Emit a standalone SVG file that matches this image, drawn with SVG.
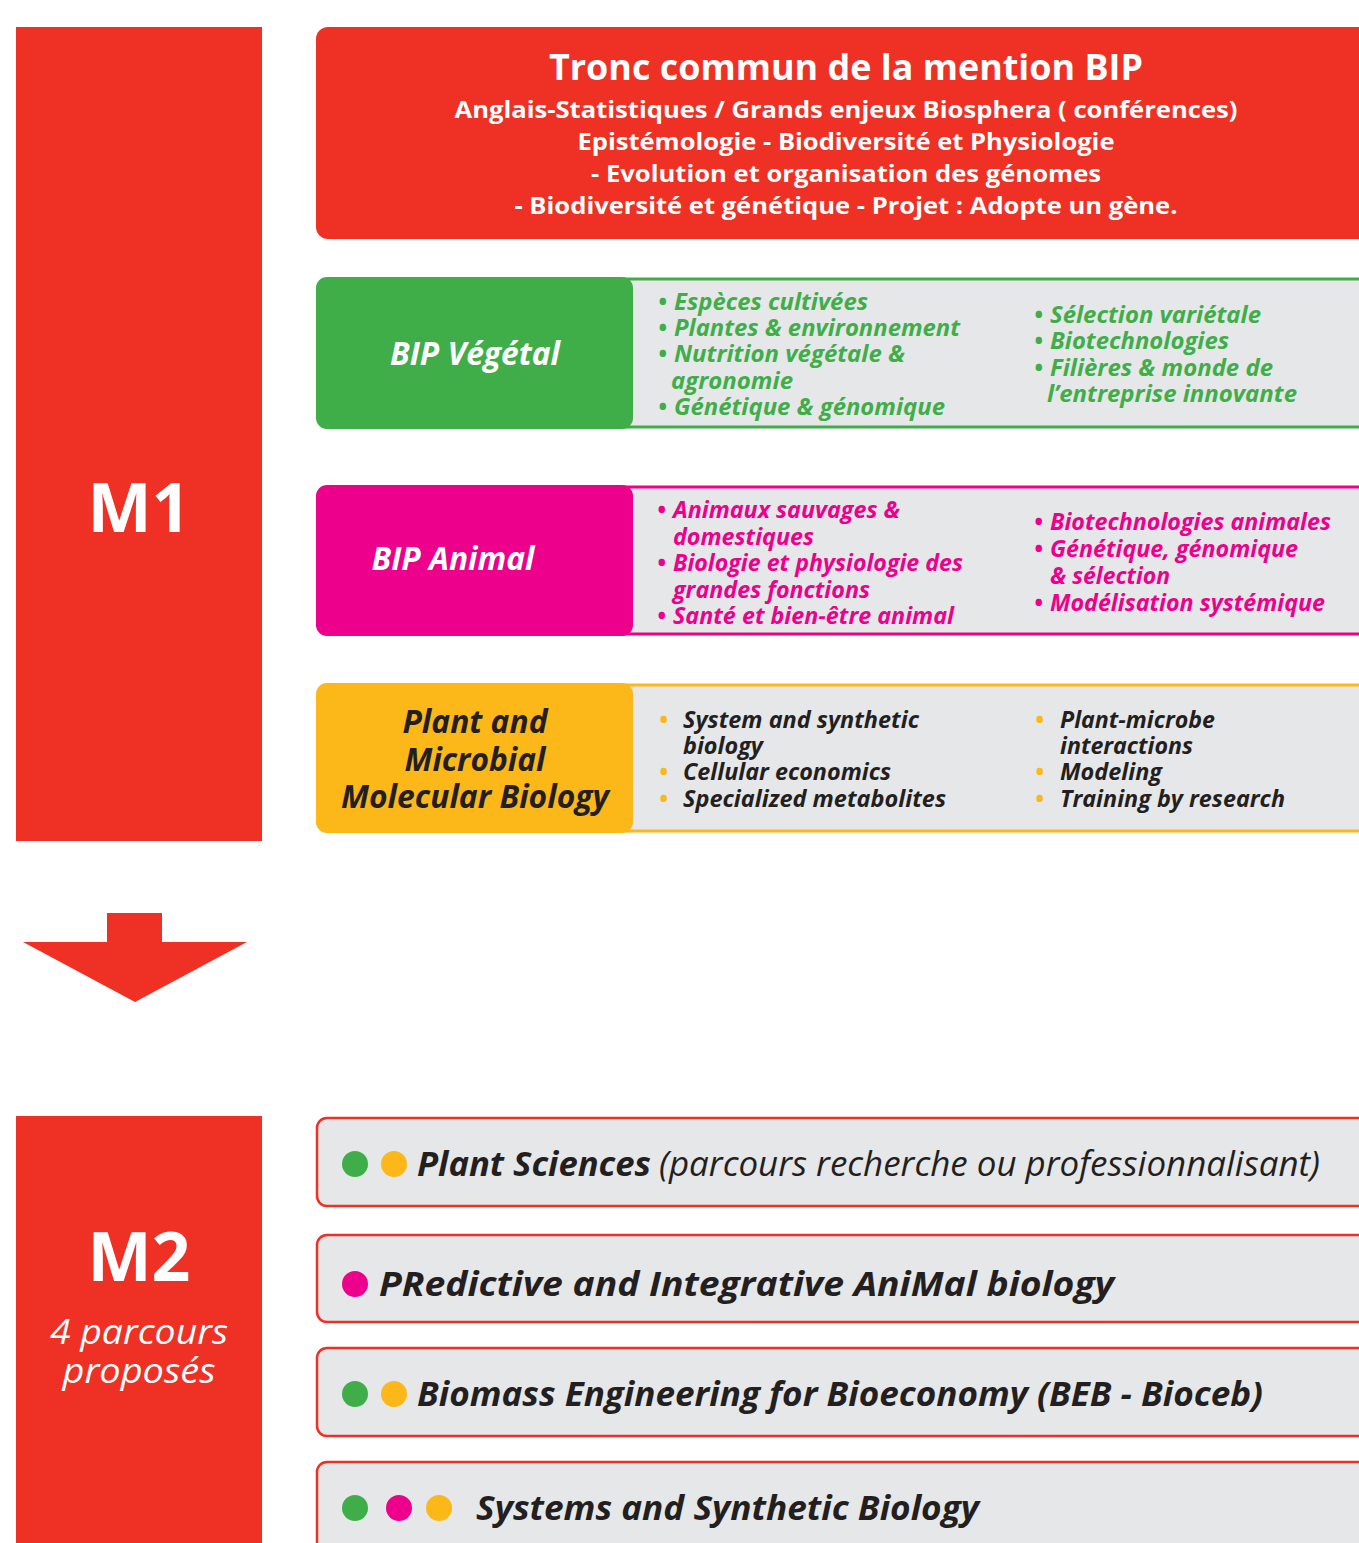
<svg xmlns="http://www.w3.org/2000/svg" width="1359" height="1543" viewBox="0 0 1359 1543">
<style>
.f{font-family:"Open Sans","Liberation Sans",sans-serif;font-weight:700}
.bi{font-family:"Open Sans","Liberation Sans",sans-serif;font-weight:700;font-style:italic}
.it{font-family:"Open Sans","Liberation Sans",sans-serif;font-weight:400;font-style:italic}
.w{fill:#ffffff}
.dk{fill:#231f20}
.gr{fill:#3fae49}
.pk{fill:#ec008c}
.ye{fill:#fbb818}
.li{font-size:23px}
.band{fill:#e6e7e8;stroke-width:3}
.m2box{fill:#e6e7e8;stroke:#ee3124;stroke-width:2.5}
.m2t{font-size:34px}
</style>
<rect width="1359" height="1543" fill="#ffffff"/>

<g id="m1">
<rect x="16" y="27" width="246" height="814" fill="#ee3124"/>
<text class="f w" x="139" y="532" font-size="68" text-anchor="middle">M1</text>
</g>

<g id="m2">
<rect x="16" y="1116" width="246" height="440" fill="#ee3124"/>
<text class="f w" x="139" y="1281" font-size="68" text-anchor="middle">M2</text>
<text class="it w" font-size="35" text-anchor="middle"><tspan x="139" y="1344" textLength="178" lengthAdjust="spacingAndGlyphs">4 parcours</tspan><tspan x="139" y="1383" textLength="153" lengthAdjust="spacingAndGlyphs">proposés</tspan></text>
</g>

<g id="tronc">
<rect x="316" y="27" width="1080" height="212" rx="12" fill="#ee3124"/>
<text class="f w" x="846" y="80" font-size="36" text-anchor="middle" textLength="594" lengthAdjust="spacingAndGlyphs">Tronc commun de la mention BIP</text>
<text class="f w" font-size="24" text-anchor="middle"><tspan x="846" y="118" textLength="783" lengthAdjust="spacingAndGlyphs">Anglais-Statistiques / Grands enjeux Biosphera ( conférences)</tspan><tspan x="846" y="150" textLength="537" lengthAdjust="spacingAndGlyphs">Epistémologie - Biodiversité et Physiologie</tspan><tspan x="846" y="182" textLength="510" lengthAdjust="spacingAndGlyphs">- Evolution et organisation des génomes</tspan><tspan x="846" y="214" textLength="663" lengthAdjust="spacingAndGlyphs">- Biodiversité et génétique - Projet : Adopte un gène.</tspan></text>
</g>

<g id="vegetal">
<rect class="band" x="420" y="279" width="976" height="148" stroke="#3fae49"/>
<rect x="316" y="277" width="317" height="152" rx="11" fill="#3fae49"/>
<text class="bi w" x="475" y="365" font-size="32" text-anchor="middle" textLength="170" lengthAdjust="spacingAndGlyphs">BIP Végétal</text>
<text class="bi gr li"><tspan x="658" y="310">•</tspan><tspan x="674" y="310" textLength="194" lengthAdjust="spacingAndGlyphs">Espèces cultivées</tspan><tspan x="658" y="336">•</tspan><tspan x="674" y="336" textLength="286" lengthAdjust="spacingAndGlyphs">Plantes &amp; environnement</tspan><tspan x="658" y="362">•</tspan><tspan x="674" y="362" textLength="231" lengthAdjust="spacingAndGlyphs">Nutrition végétale &amp;</tspan><tspan x="671" y="389" textLength="122" lengthAdjust="spacingAndGlyphs">agronomie</tspan><tspan x="658" y="415">•</tspan><tspan x="674" y="415" textLength="271" lengthAdjust="spacingAndGlyphs">Génétique &amp; génomique</tspan></text>
<text class="bi gr li"><tspan x="1034" y="323">•</tspan><tspan x="1050" y="323" textLength="211" lengthAdjust="spacingAndGlyphs">Sélection variétale</tspan><tspan x="1034" y="349">•</tspan><tspan x="1050" y="349" textLength="179" lengthAdjust="spacingAndGlyphs">Biotechnologies</tspan><tspan x="1034" y="376">•</tspan><tspan x="1050" y="376" textLength="223" lengthAdjust="spacingAndGlyphs">Filières &amp; monde de</tspan><tspan x="1047" y="402" textLength="250" lengthAdjust="spacingAndGlyphs">l’entreprise innovante</tspan></text>
</g>

<g id="animal">
<rect class="band" x="420" y="487" width="976" height="147" stroke="#ec008c"/>
<rect x="316" y="485" width="317" height="151" rx="11" fill="#ec008c"/>
<text class="bi w" x="453" y="570" font-size="32" text-anchor="middle" textLength="163" lengthAdjust="spacingAndGlyphs">BIP Animal</text>
<text class="bi pk li"><tspan x="657" y="518">•</tspan><tspan x="673" y="518" textLength="227" lengthAdjust="spacingAndGlyphs">Animaux sauvages &amp;</tspan><tspan x="673" y="545" textLength="141" lengthAdjust="spacingAndGlyphs">domestiques</tspan><tspan x="657" y="571">•</tspan><tspan x="673" y="571" textLength="290" lengthAdjust="spacingAndGlyphs">Biologie et physiologie des</tspan><tspan x="673" y="598" textLength="197" lengthAdjust="spacingAndGlyphs">grandes fonctions</tspan><tspan x="657" y="624">•</tspan><tspan x="673" y="624" textLength="281" lengthAdjust="spacingAndGlyphs">Santé et bien-être animal</tspan></text>
<text class="bi pk li"><tspan x="1034" y="530">•</tspan><tspan x="1050" y="530" textLength="281" lengthAdjust="spacingAndGlyphs">Biotechnologies animales</tspan><tspan x="1034" y="557">•</tspan><tspan x="1050" y="557" textLength="248" lengthAdjust="spacingAndGlyphs">Génétique, génomique</tspan><tspan x="1050" y="584" textLength="120" lengthAdjust="spacingAndGlyphs">&amp; sélection</tspan><tspan x="1034" y="611">•</tspan><tspan x="1050" y="611" textLength="275" lengthAdjust="spacingAndGlyphs">Modélisation systémique</tspan></text>
</g>

<g id="pmmb">
<rect class="band" x="420" y="685" width="976" height="146" stroke="#fbb818"/>
<rect x="316" y="683" width="317" height="150" rx="11" fill="#fbb818"/>
<text class="bi dk" font-size="32" text-anchor="middle"><tspan x="475" y="733" textLength="145" lengthAdjust="spacingAndGlyphs">Plant and</tspan><tspan x="475" y="771" textLength="141" lengthAdjust="spacingAndGlyphs">Microbial</tspan><tspan x="475" y="808" textLength="268" lengthAdjust="spacingAndGlyphs">Molecular Biology</tspan></text>
<text class="bi li dk"><tspan class="ye" x="659" y="728">•</tspan><tspan x="683" y="728" textLength="236" lengthAdjust="spacingAndGlyphs">System and synthetic</tspan><tspan x="683" y="754" textLength="80" lengthAdjust="spacingAndGlyphs">biology</tspan><tspan class="ye" x="659" y="780">•</tspan><tspan x="683" y="780" textLength="208" lengthAdjust="spacingAndGlyphs">Cellular economics</tspan><tspan class="ye" x="659" y="807">•</tspan><tspan x="683" y="807" textLength="263" lengthAdjust="spacingAndGlyphs">Specialized metabolites</tspan></text>
<text class="bi li dk"><tspan class="ye" x="1035" y="728">•</tspan><tspan x="1060" y="728" textLength="155" lengthAdjust="spacingAndGlyphs">Plant-microbe</tspan><tspan x="1060" y="754" textLength="133" lengthAdjust="spacingAndGlyphs">interactions</tspan><tspan class="ye" x="1035" y="780">•</tspan><tspan x="1060" y="780" textLength="102" lengthAdjust="spacingAndGlyphs">Modeling</tspan><tspan class="ye" x="1035" y="807">•</tspan><tspan x="1060" y="807" textLength="225" lengthAdjust="spacingAndGlyphs">Training by research</tspan></text>
</g>

<g id="connectors">
<path d="M107,913 H162 V942 H247 L135,1002 L23,942 H107 Z" fill="#ee3124"/>
</g>

<g id="plant-sciences">
<rect class="m2box" x="317" y="1118" width="1080" height="88" rx="10"/>
<circle cx="355" cy="1164" r="13" fill="#3fae49"/>
<circle cx="394" cy="1164" r="13" fill="#fbb818"/>
<text class="dk m2t" y="1176"><tspan class="bi" x="417" textLength="234" lengthAdjust="spacingAndGlyphs">Plant Sciences</tspan><tspan class="it" x="659" textLength="661" lengthAdjust="spacingAndGlyphs">(parcours recherche ou professionnalisant)</tspan></text>
</g>

<g id="primal">
<rect class="m2box" x="317" y="1235" width="1080" height="87" rx="10"/>
<circle cx="355" cy="1284" r="13" fill="#ec008c"/>
<text class="bi dk m2t" x="379" y="1296" textLength="735" lengthAdjust="spacingAndGlyphs">PRedictive and Integrative AniMal biology</text>
</g>

<g id="beb">
<rect class="m2box" x="317" y="1348" width="1080" height="88" rx="10"/>
<circle cx="355" cy="1394" r="13" fill="#3fae49"/>
<circle cx="394" cy="1394" r="13" fill="#fbb818"/>
<text class="bi dk m2t" x="417" y="1406" textLength="846" lengthAdjust="spacingAndGlyphs">Biomass Engineering for Bioeconomy (BEB - Bioceb)</text>
</g>

<g id="ssb">
<rect class="m2box" x="317" y="1462" width="1080" height="100" rx="10"/>
<circle cx="355" cy="1508" r="13" fill="#3fae49"/>
<circle cx="399" cy="1508" r="13" fill="#ec008c"/>
<circle cx="439" cy="1508" r="13" fill="#fbb818"/>
<text class="bi dk m2t" x="476" y="1520" textLength="503" lengthAdjust="spacingAndGlyphs">Systems and Synthetic Biology</text>
</g>
</svg>
